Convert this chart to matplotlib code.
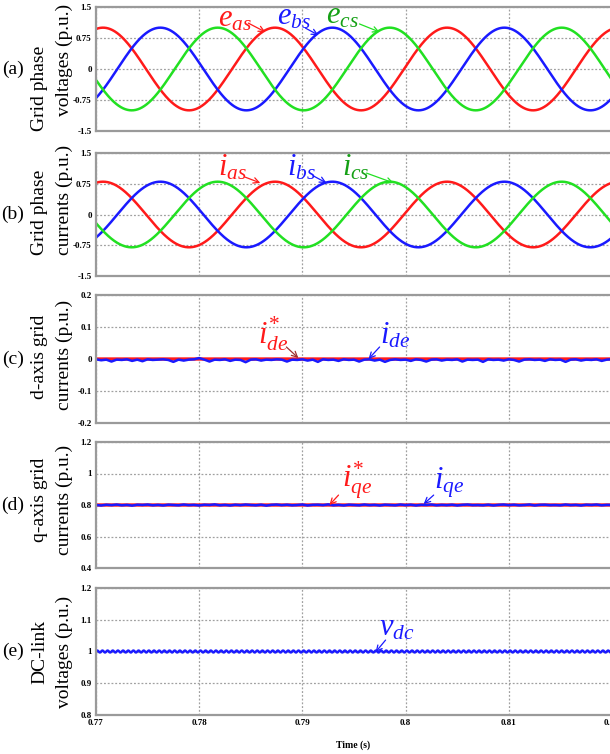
#!/usr/bin/env python3
"""Grid-side waveforms: phase voltages, phase currents, dq currents, DC link."""

import matplotlib

matplotlib.use("Agg")
import matplotlib.pyplot as plt
import numpy as np

# --- values ---
T_START, T_END = 0.77, 0.82
X_TICKS = [0.77, 0.78, 0.79, 0.80, 0.81, 0.82]
X_TICK_LABELS = ["0.77", "0.78", "0.79", "0.8", "0.81", "0.82"]

GRID_HZ = 60.0
T_PEAK_A = 0.77068          # first peak of phase a
V_AMP = 1.0                 # grid voltage amplitude (p.u.)
I_AMP = 0.8                 # grid current amplitude (p.u.)

ID_REF = 0.0
IQ_REF = 0.8
VDC_REF = 1.0
VDC_RIPPLE_AMP = 0.003
VDC_RIPPLE_HZ = 2000.0

# d/q current deviations, sampled every 0.5 ms from 0.77 s to 0.82 s
ID_DEV = [-0.001, -0.004, -0.002, -0.008, -0.002, -0.003, -0.001, -0.006, -0.002, -0.007,
          -0.001, -0.003, -0.002, -0.001, -0.003, -0.009, -0.002, -0.005, -0.002, -0.001,
          0.003, -0.002, -0.008, -0.002, -0.003, -0.001, -0.006, -0.002, -0.003, -0.010,
          -0.002, -0.001, -0.005, -0.002, -0.003, -0.001, -0.002, -0.008, -0.002, -0.003,
          -0.001, -0.005, -0.002, -0.009, -0.001, -0.003, -0.002, -0.006, -0.001, -0.003,
          -0.002, -0.008, -0.002, -0.001, -0.005, -0.002, -0.009, -0.003, -0.001, -0.003,
          -0.002, -0.006, -0.001, -0.003, -0.008, -0.002, -0.001, -0.005, -0.002, -0.003,
          -0.001, -0.008, -0.002, -0.003, -0.002, -0.009, -0.001, -0.003, -0.002, -0.005,
          -0.001, -0.003, -0.008, -0.002, -0.001, -0.003, -0.002, -0.006, -0.001, -0.003,
          -0.002, -0.009, -0.002, -0.001, -0.005, -0.002, -0.003, -0.001, -0.006, -0.002, -0.001]
IQ_DEV = [0.000, -0.003, 0.002, -0.001, 0.003, -0.002, 0.001, -0.004, 0.002, 0.000,
          0.003, -0.002, 0.001, -0.003, 0.002, 0.000, -0.002, 0.003, -0.001, 0.001,
          -0.003, 0.002, 0.000, 0.004, -0.002, 0.001, -0.003, 0.002, -0.001, 0.003,
          0.000, -0.002, 0.002, -0.004, 0.001, 0.003, -0.001, 0.002, -0.002, 0.000,
          0.003, -0.003, 0.001, 0.002, -0.001, 0.004, -0.002, 0.001, -0.003, 0.002,
          0.000, -0.002, 0.003, -0.001, 0.001, -0.003, 0.002, 0.000, -0.002, 0.003,
          -0.001, 0.002, -0.003, 0.001, 0.000, 0.003, -0.002, 0.001, -0.001, 0.002,
          -0.003, 0.001, 0.003, -0.001, 0.000, -0.002, 0.002, -0.003, 0.001, 0.003,
          -0.001, 0.002, -0.002, 0.000, 0.003, -0.003, 0.001, 0.002, -0.001, 0.000,
          -0.002, 0.003, -0.001, 0.001, -0.003, 0.002, 0.000, 0.003, -0.002, 0.001, 0.000]

Y_TICKS = {
    "a": [-1.5, -0.75, 0, 0.75, 1.5],
    "b": [-1.5, -0.75, 0, 0.75, 1.5],
    "c": [-0.2, -0.1, 0, 0.1, 0.2],
    "d": [0.4, 0.6, 0.8, 1.0, 1.2],
    "e": [0.8, 0.9, 1.0, 1.1, 1.2],
}
Y_TICK_LABELS = {
    "a": ["-1.5", "-0.75", "0", "0.75", "1.5"],
    "b": ["-1.5", "-0.75", "0", "0.75", "1.5"],
    "c": ["-0.2", "-0.1", "0", "0.1", "0.2"],
    "d": ["0.4", "0.6", "0.8", "1", "1.2"],
    "e": ["0.8", "0.9", "1", "1.1", "1.2"],
}
Y_LABELS = {
    "a": ("Grid phase", "voltages (p.u.)"),
    "b": ("Grid phase", "currents (p.u.)"),
    "c": ("d-axis grid", "currents (p.u.)"),
    "d": ("q-axis grid", "currents (p.u.)"),
    "e": ("DC-link", "voltages (p.u.)"),
}

# --- colours ---
C_RED = "#ff1a1a"
C_BLUE = "#1a1aff"
C_GREEN = "#22e022"
C_GREEN_TXT = "#15a015"
C_GRID = "#a0a0a0"
C_SPINE = "#9a9a9a"

W, H = 610, 754
# panel extents in pixels (top, bottom)
PANELS = {"a": (7, 131), "b": (153, 276), "c": (295, 423),
          "d": (442, 568), "e": (588, 715)}
LABEL_Y = {"a": (88, 60), "b": (212, 200), "c": (357, 355),
           "d": (500, 500), "e": (652, 652)}


def main():
    plt.rcParams.update({
        "font.family": ["Liberation Serif", "DejaVu Serif"],
        "mathtext.fontset": "custom",
        "mathtext.rm": "Liberation Serif",
        "mathtext.it": "Liberation Serif:italic",
        "mathtext.bf": "Liberation Serif:bold",
    })
    fig = plt.figure(figsize=(W / 100, H / 100), dpi=100)

    t = np.linspace(T_START, T_END, 2001)
    t_dev = np.linspace(T_START, T_END, len(ID_DEV))
    w = 2 * np.pi * GRID_HZ
    shift = 2 * np.pi / 3

    axes = {}
    for key, (top, bot) in PANELS.items():
        ax = fig.add_axes([96 / W, 1 - bot / H, (612 - 96) / W, (bot - top) / H])
        axes[key] = ax
        ax.set_xlim(T_START, T_END)
        ax.set_ylim(Y_TICKS[key][0], Y_TICKS[key][-1])
        ax.set_yticks(Y_TICKS[key])
        ax.set_yticklabels(Y_TICK_LABELS[key], fontsize=6.5, fontweight="bold")
        ax.set_xticks(X_TICKS)
        if key == "e":
            ax.set_xticklabels(X_TICK_LABELS, fontsize=6.5, fontweight="bold")
        else:
            ax.set_xticklabels([])
        ax.tick_params(length=0, pad=3)
        ax.grid(True, color=C_GRID, linestyle=(0, (1.5, 1.5)), linewidth=0.9)
        ax.set_axisbelow(True)
        for sp in ax.spines.values():
            sp.set_color(C_SPINE)
            sp.set_linewidth(1.6)

        yc = 1 - (top + bot) / 2 / H
        fig.text(13 / W, yc, f"({key})", fontsize=14, ha="center", va="center")
        l1, l2 = Y_LABELS[key]
        y1, y2 = LABEL_Y[key]
        fig.text(40 / W, 1 - y1 / H, l1, fontsize=14, rotation=90,
                 ha="center", va="center")
        fig.text(64 / W, 1 - y2 / H, l2, fontsize=14, rotation=90,
                 ha="center", va="center")

    lw = 1.8
    ph = w * (t - T_PEAK_A)
    ax = axes["a"]
    ax.plot(t, V_AMP * np.cos(ph), color=C_RED, lw=lw)
    ax.plot(t, V_AMP * np.cos(ph - shift), color=C_BLUE, lw=lw)
    ax.plot(t, V_AMP * np.cos(ph + shift), color=C_GREEN, lw=lw)

    ax = axes["b"]
    ax.plot(t, I_AMP * np.cos(ph), color=C_RED, lw=lw)
    ax.plot(t, I_AMP * np.cos(ph - shift), color=C_BLUE, lw=lw)
    ax.plot(t, I_AMP * np.cos(ph + shift), color=C_GREEN, lw=lw)

    ax = axes["c"]
    ax.plot(t, np.full_like(t, ID_REF), color=C_RED, lw=2.4)
    ax.plot(t_dev, ID_REF + np.array(ID_DEV), color=C_BLUE, lw=1.8)

    ax = axes["d"]
    ax.plot(t, np.full_like(t, IQ_REF), color=C_RED, lw=2.4)
    ax.plot(t_dev, IQ_REF + np.array(IQ_DEV), color=C_BLUE, lw=1.8)

    ax = axes["e"]
    ax.plot(t, VDC_REF + VDC_RIPPLE_AMP * np.sin(2 * np.pi * VDC_RIPPLE_HZ * t),
            color=C_BLUE, lw=1.8)

    def label(ax, text, xy_text, tail, tip, color, txt_color=None):
        ax.text(xy_text[0], xy_text[1], text, color=txt_color or color,
                fontsize=22, ha="left", va="center")
        ax.annotate("", xy=tip, xytext=tail,
                    arrowprops=dict(arrowstyle="->", color=color, lw=0.9,
                                    shrinkA=0, shrinkB=0))

    label(axes["a"], r"$e_{as}$", (0.78184, 1.22),
          (0.78476, 1.11), (0.78641, 0.895), C_RED)
    label(axes["a"], r"$e_{bs}$", (0.78757, 1.25),
          (0.79029, 0.99), (0.79155, 0.82), C_BLUE)
    label(axes["a"], r"$e_{cs}$", (0.79233, 1.28),
          (0.79553, 1.09), (0.79748, 0.895), C_GREEN, C_GREEN_TXT)

    label(axes["b"], r"$i_{as}$", (0.78184, 1.13),
          (0.78447, 0.91), (0.78592, 0.77), C_RED)
    label(axes["b"], r"$i_{bs}$", (0.78854, 1.13),
          (0.79107, 0.94), (0.79233, 0.77), C_BLUE)
    label(axes["b"], r"$i_{cs}$", (0.79388, 1.13),
          (0.79621, 1.01), (0.79883, 0.77), C_GREEN, C_GREEN_TXT)

    label(axes["c"], r"$i^{*}_{de}$", (0.78573, 0.078),
          (0.78845, 0.0375), (0.78961, 0.003), "#a03030", C_RED)
    label(axes["c"], r"$i_{de}$", (0.79748, 0.072),
          (0.79748, 0.0375), (0.79641, 0.0), C_BLUE)

    label(axes["d"], r"$i^{*}_{qe}$", (0.79388, 0.955),
          (0.79350, 0.863), (0.79262, 0.80), C_RED)
    label(axes["d"], r"$i_{qe}$", (0.80272, 0.94),
          (0.80272, 0.863), (0.80175, 0.806), C_BLUE)

    label(axes["e"], r"$v_{dc}$", (0.79738, 1.074),
          (0.79806, 1.036), (0.79709, 0.998), C_BLUE)

    fig.text(353 / W, 1 - 745 / H, "Time (s)", fontsize=7, fontweight="bold",
             ha="center", va="center")

    fig.savefig("out.png", dpi=100)


if __name__ == "__main__":
    main()
